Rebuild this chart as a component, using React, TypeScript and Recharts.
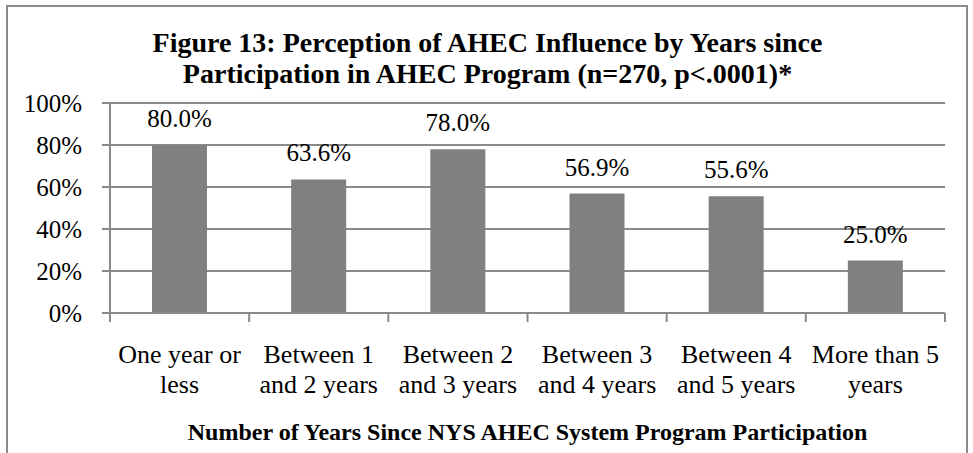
import { Bar, BarChart, CartesianGrid, LabelList, XAxis, YAxis } from "recharts";

const categories = [
  "One year or less",
  "Between 1 and 2 years",
  "Between 2 and 3 years",
  "Between 3 and 4 years",
  "Between 4 and 5 years",
  "More than 5 years",
];
const influencePct = [80.0, 63.6, 78.0, 56.9, 55.6, 25.0];
const tickLines = [
  ["One year or", "less"],
  ["Between 1", "and 2 years"],
  ["Between 2", "and 3 years"],
  ["Between 3", "and 4 years"],
  ["Between 4", "and 5 years"],
  ["More than 5", "years"],
];
const yTicks = [0, 20, 40, 60, 80, 100];
const titleLines = [
  "Figure 13: Perception of AHEC Influence by Years since",
  "Participation in AHEC Program (n=270, p<.0001)*",
];
const axisTitle = "Number of Years Since NYS AHEC System Program Participation";

const data = categories.map((name, i) => ({ name, value: influencePct[i] }));

const W = 973;
const H = 453;
const FONT = "'Liberation Serif', 'Times New Roman', serif";
const GRID = "#8a8a8a";
const PLOT_LEFT = 110;
const PLOT_RIGHT = 945;

// category label split over two lines, plus boundary tick marks like Excel draws
function CategoryTick(props: any) {
  const { x, y, payload } = props;
  const idx = categories.indexOf(payload.value);
  const half =
    payload.offset ?? (PLOT_RIGHT - PLOT_LEFT) / categories.length / 2;
  const lines = tickLines[idx] || [payload.value];
  return (
    <g>
      <line x1={x - half} x2={x - half} y1={y} y2={y + 9} stroke={GRID} strokeWidth={2} />
      {idx === categories.length - 1 && (
        <line x1={x + half} x2={x + half} y1={y} y2={y + 9} stroke={GRID} strokeWidth={2} />
      )}
      <text
        x={x}
        y={y + 50}
        textAnchor="middle"
        fill="#000"
        style={{ fontFamily: FONT, fontSize: 26 }}
      >
        {lines.map((l, i) => (
          <tspan key={i} x={x} dy={i === 0 ? 0 : 30}>
            {l}
          </tspan>
        ))}
      </text>
    </g>
  );
}

export default function App() {
  return (
    <div
      style={{
        position: "absolute",
        left: 0,
        top: 0,
        width: W,
        height: H,
        background: "#fff",
        fontFamily: FONT,
      }}
    >
      <BarChart
        width={W}
        height={H}
        data={data}
        margin={{ top: 103, right: W - PLOT_RIGHT, bottom: 0, left: 10 }}
        accessibilityLayer={false}
        style={{ fontFamily: FONT }}
      >
        <CartesianGrid vertical={false} stroke={GRID} strokeWidth={2} />
        <XAxis
          dataKey="name"
          height={140}
          interval={0}
          tickLine={false}
          tickSize={0}
          tickMargin={0}
          axisLine={{ stroke: GRID, strokeWidth: 2 }}
          tick={<CategoryTick />}
          label={{
            value: axisTitle,
            position: "insideBottom",
            offset: 13,
            fill: "#000",
            style: { fontFamily: FONT, fontSize: 24, fontWeight: "bold" },
          }}
        />
        <YAxis
          width={100}
          domain={[0, 100]}
          ticks={yTicks}
          interval={0}
          tickFormatter={(v) => `${v}%`}
          tickSize={8}
          tickMargin={20}
          tickLine={{ stroke: GRID, strokeWidth: 2 }}
          axisLine={{ stroke: GRID, strokeWidth: 2 }}
          tick={{ fill: "#000", style: { fontFamily: FONT, fontSize: 25 } }}
        />
        <Bar dataKey="value" fill="#808080" barSize={55} isAnimationActive={false}>
          <LabelList
            dataKey="value"
            position="top"
            offset={18}
            formatter={(v: any) => `${Number(v).toFixed(1)}%`}
            fill="#000"
            style={{ fontFamily: FONT, fontSize: 25 }}
          />
        </Bar>
      </BarChart>
      <svg
        width={W}
        height={H}
        style={{ position: "absolute", left: 0, top: 0, pointerEvents: "none" }}
      >
        <rect x={7} y={6} width={960} height={470} fill="none" stroke={GRID} strokeWidth={2} />
        {titleLines.map((t, i) => (
          <text
            key={i}
            x={487.5}
            y={52 + i * 31}
            textAnchor="middle"
            fill="#000"
            style={{ fontFamily: FONT, fontSize: 28, fontWeight: "bold" }}
          >
            {t}
          </text>
        ))}
      </svg>
    </div>
  );
}
